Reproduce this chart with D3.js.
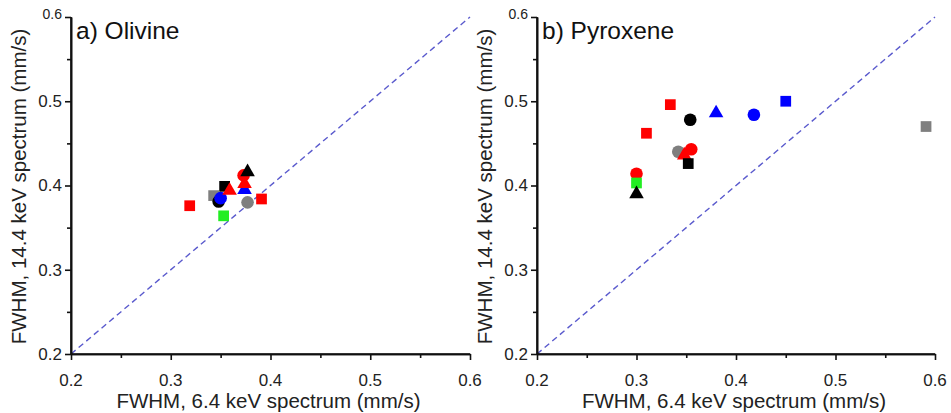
<!DOCTYPE html>
<html>
<head>
<meta charset="utf-8">
<script src="https://cdn.jsdelivr.net/npm/d3@7/dist/d3.min.js"></script>
<style>
  html, body { margin: 0; padding: 0; background: #fff; }
  svg { display: block; font-family: "Liberation Sans", Arial, sans-serif; color: #000; }
</style>
</head>
<body>
<svg id="chart" width="951" height="413"></svg>
<script>
// Panel titles and axis text
const panelTitles = ["a) Olivine", "b) Pyroxene"];
const xAxisLabel = "FWHM, 6.4 keV spectrum (mm/s)";
const yAxisLabel = "FWHM, 14.4 keV spectrum (mm/s)";
const tickValues = [0.2, 0.3, 0.4, 0.5, 0.6];
const tickLabels = ["0.2", "0.3", "0.4", "0.5", "0.6"];
const minorTickValues = [0.25, 0.35, 0.45, 0.55];

// Olivine points: FWHM at 6.4 keV, FWHM at 14.4 keV, marker shape, colour
const olivineX     = [0.319, 0.353, 0.343, 0.348, 0.350, 0.354, 0.359, 0.374, 0.374, 0.373, 0.377, 0.377, 0.391];
const olivineY     = [0.376, 0.364, 0.388, 0.381, 0.385, 0.399, 0.394, 0.395, 0.402, 0.412, 0.416, 0.380, 0.384];
const olivineShape = ["square", "square", "square", "circle", "circle", "square", "triangle", "triangle", "triangle", "circle", "triangle", "circle", "square"];
const olivineColor = ["red", "green", "gray", "black", "blue", "black", "red", "blue", "red", "red", "black", "gray", "red"];

// Pyroxene points
const pyroxeneX     = [0.334, 0.354, 0.380, 0.418, 0.310, 0.342, 0.348, 0.355, 0.352, 0.300, 0.300, 0.300, 0.450, 0.591];
const pyroxeneY     = [0.496, 0.478, 0.486, 0.484, 0.462, 0.440, 0.436, 0.443, 0.426, 0.414, 0.403, 0.390, 0.500, 0.470];
const pyroxeneShape = ["square", "circle", "triangle", "circle", "square", "circle", "triangle", "circle", "square", "circle", "square", "triangle", "square", "square"];
const pyroxeneColor = ["red", "black", "blue", "blue", "red", "gray", "red", "red", "black", "red", "green", "black", "blue", "gray"];

const palette = { red: "#ff0000", green: "#22ee22", gray: "#7f7f7f", black: "#000000", blue: "#0000ff" };
const symbolType = { square: d3.symbolSquare, circle: d3.symbolCircle, triangle: d3.symbolTriangle };
const symbolSize = { square: 115, circle: 125, triangle: 92 };

const svg = d3.select("#chart");

const panels = [
  { title: panelTitles[0], xs: olivineX, ys: olivineY, shapes: olivineShape, colors: olivineColor, x0: 71, x1: 470 },
  { title: panelTitles[1], xs: pyroxeneX, ys: pyroxeneY, shapes: pyroxeneShape, colors: pyroxeneColor, x0: 537, x1: 935 }
];
const yTop = 17, yBottom = 354;

panels.forEach(p => {
  const x = d3.scaleLinear().domain([0.2, 0.6]).range([p.x0, p.x1]);
  const y = d3.scaleLinear().domain([0.2, 0.6]).range([yBottom, yTop]);
  const g = svg.append("g");

  // identity line y = x
  g.append("line")
    .attr("x1", x(0.2)).attr("y1", y(0.2))
    .attr("x2", x(0.6)).attr("y2", y(0.6))
    .attr("stroke", "#5a5acd").attr("stroke-width", 1.4)
    .attr("stroke-dasharray", "6,4");

  // tick marks (minor and major), pointing outward
  const axes = [
    g.append("g").attr("transform", `translate(0,${yBottom})`)
      .call(d3.axisBottom(x).tickValues(minorTickValues).tickFormat("").tickSize(4).tickSizeOuter(0)),
    g.append("g").attr("transform", `translate(${p.x0},0)`)
      .call(d3.axisLeft(y).tickValues(minorTickValues).tickFormat("").tickSize(4).tickSizeOuter(0)),
    g.append("g").attr("transform", `translate(0,${yBottom})`)
      .call(d3.axisBottom(x).tickValues(tickValues).tickFormat("").tickSize(6).tickSizeOuter(0)),
    g.append("g").attr("transform", `translate(${p.x0},0)`)
      .call(d3.axisLeft(y).tickValues(tickValues).tickFormat("").tickSize(6).tickSizeOuter(0))
  ];
  axes.forEach(a => {
    a.attr("color", "#111");
    a.selectAll("path, line").attr("stroke", "#111").attr("stroke-width", 1.6);
  });

  // axis lines
  g.append("path")
    .attr("d", `M${x.range()[0]},${y(0.2)}H${x.range()[1]}M${x(0.2)},${y.range()[0]}V${y.range()[1]}`)
    .attr("fill", "none").attr("stroke", "#111").attr("stroke-width", 1.6);

  // tick labels
  g.append("g").selectAll("text").data(tickValues).join("text")
    .attr("x", d => x(d)).attr("y", yBottom + 32)
    .attr("text-anchor", "middle").attr("font-size", 17).attr("fill", "#222")
    .text((d, i) => tickLabels[i]);
  g.append("g").selectAll("text").data(tickValues).join("text")
    .attr("x", p.x0 - 9).attr("y", d => y(d))
    .attr("dy", d => d === 0.6 ? "0.15em" : "0.35em")
    .attr("text-anchor", "end").attr("font-size", d => d === 0.6 ? 14 : 17).attr("fill", "#222")
    .text((d, i) => tickLabels[i]);

  // points
  g.append("g").selectAll("path").data(p.xs.map((v, i) => i)).join("path")
    .attr("transform", i => `translate(${x(p.xs[i])},${y(p.ys[i])})`)
    .attr("d", i => d3.symbol().type(symbolType[p.shapes[i]]).size(symbolSize[p.shapes[i]])())
    .attr("fill", i => palette[p.colors[i]]);

  // titles and axis labels
  g.append("text").attr("x", p.x0 + 5).attr("y", 39)
    .attr("font-size", 24.5).attr("fill", "#111").text(p.title);
  g.append("text").attr("x", (p.x0 + p.x1) / 2 - 2).attr("y", 408)
    .attr("text-anchor", "middle").attr("font-size", 20.5).attr("fill", "#222").text(xAxisLabel);
  g.append("text")
    .attr("transform", `translate(${p.x0 - 52},${(yTop + yBottom) / 2 + 1}) rotate(-90)`)
    .attr("text-anchor", "middle").attr("dy", "0.35em")
    .attr("font-size", 20.5).attr("fill", "#222").text(yAxisLabel);
});
</script>
</body>
</html>
